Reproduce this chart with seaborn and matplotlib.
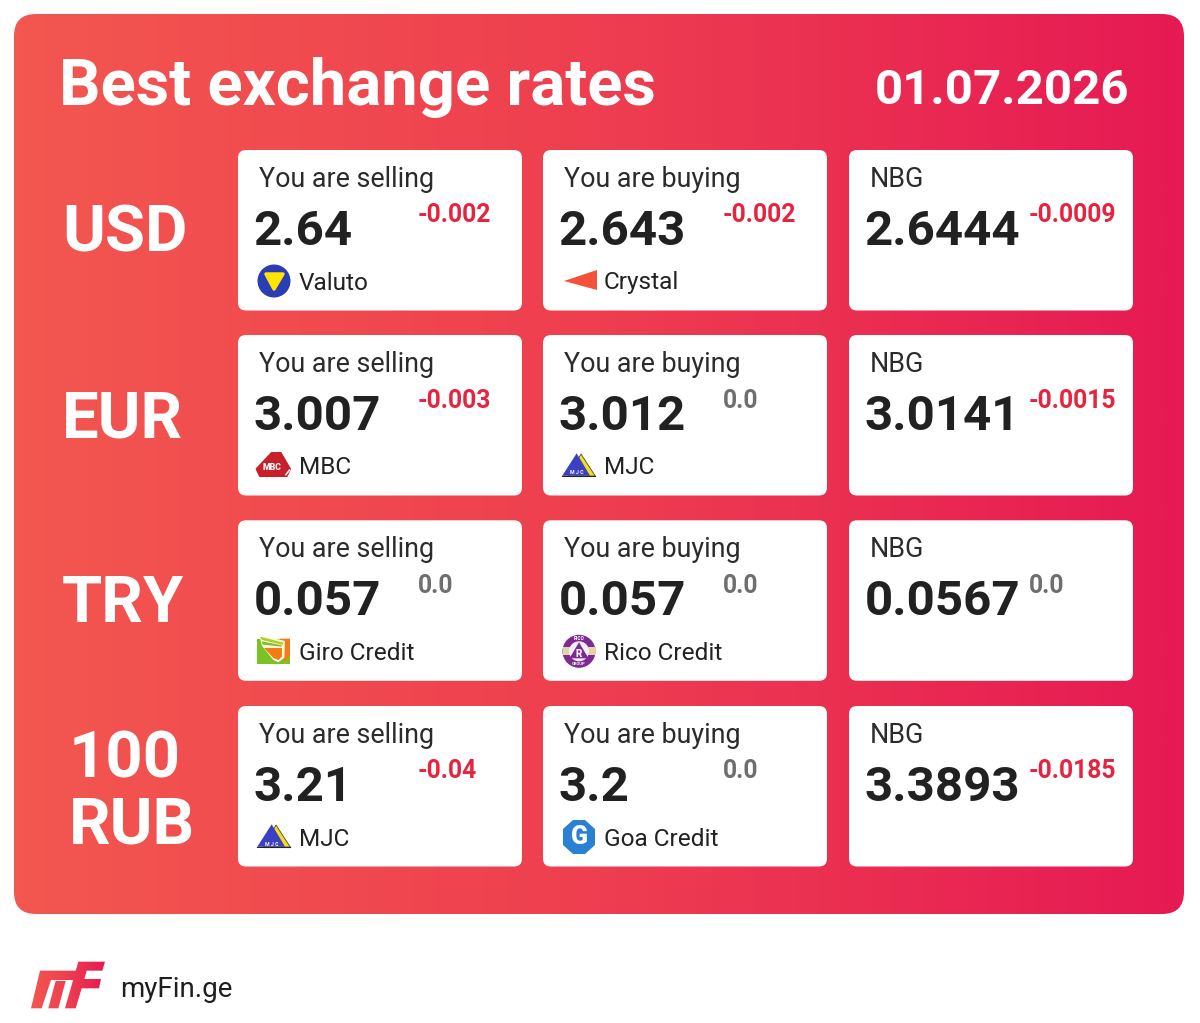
import numpy as np
import seaborn as sns
import matplotlib
matplotlib.use("Agg")
import matplotlib.pyplot as plt
from matplotlib.patches import FancyBboxPatch, Circle, Polygon, Rectangle, PathPatch
from matplotlib.path import Path
from matplotlib.colors import LinearSegmentedColormap

currencies = ["USD", "EUR", "TRY", "100\nRUB"]
sell_values = ["2.64", "3.007", "0.057", "3.21"]
sell_deltas = ["-0.002", "-0.003", "0.0", "-0.04"]
sell_banks = ["Valuto", "MBC", "Giro Credit", "MJC"]
buy_values = ["2.643", "3.012", "0.057", "3.2"]
buy_deltas = ["-0.002", "0.0", "0.0", "0.0"]
buy_banks = ["Crystal", "MJC", "Rico Credit", "Goa Credit"]
nbg_values = ["2.6444", "3.0141", "0.0567", "3.3893"]
nbg_deltas = ["-0.0009", "-0.0015", "0.0", "-0.0185"]
title_text = "Best exchange rates"
date_text = "01.07.2026"
brand_text = "myFin.ge"

sns.set_theme(style="white")
plt.rcParams["font.family"] = ["Roboto", "DejaVu Sans"]

fig = plt.figure(figsize=(12, 10.23), dpi=100, facecolor="white")
ax = fig.add_axes([0, 0, 1, 1])
ax.set_xlim(0, 1200)
ax.set_ylim(1023, 0)
ax.axis("off")

grad = LinearSegmentedColormap.from_list("g", ["#F3574F", "#EE3E50", "#E61A54"])
panel = FancyBboxPatch((14, 14), 1170, 900, boxstyle="round,pad=0,rounding_size=22",
                       fc="none", ec="none", transform=ax.transData)
ax.add_patch(panel)
im = ax.imshow(np.linspace(0, 1, 256)[None, :], extent=(14, 1184, 914, 14), cmap=grad,
               aspect="auto", zorder=1, interpolation="bilinear")
im.set_clip_path(panel)

ax.text(59, 104.5, title_text, color="white", fontsize=46.9, fontweight="bold", zorder=3)
ax.text(1129.5, 104.5, date_text, color="white", fontsize=35.5, fontweight="bold", ha="right", zorder=3)

card_xs = [238, 543, 849]
card_ys = [150, 335, 520.3, 706]
DARK = "#212121"
RED = "#E5243F"
GREY = "#6E6E6E"


def poly(pts, c, z=5, ec="none", lw=0):
    ax.add_patch(Polygon(pts, closed=True, fc=c, ec=ec, lw=lw, joinstyle="round", zorder=z))


def zoomed(x, y, pts):
    # logo outlines sketched on a 3x grid around the logo centre
    return [(x - 24 + a / 3, y - 22 + b / 3) for a, b in pts]


def logo_valuto(x, y):
    ax.add_patch(Circle((x, y), 16.5, fc="#2B3DB5", ec="none", zorder=5))
    poly([(x - 8, y - 7), (x + 9, y - 7), (x, y + 8)], "#FFE600", 6, ec="#FFE600", lw=2.5)


def logo_crystal(x, y):
    poly([(x - 15, y), (x + 18, y - 11), (x + 18, y + 9)], "#F4503A")


def logo_mbc(x, y):
    poly(zoomed(x, y + 1, [(65, 24), (92, 24), (120, 72), (110, 93), (30, 93), (20, 72)]),
         "#C8202B", 5, ec="#C8202B", lw=1.5)
    ax.text(x - 2, y + 2, "MBC", color="white", fontsize=6.3, fontweight="black", ha="center", va="center", zorder=6)
    poly(zoomed(x, y + 1, [(118, 72), (122, 75), (108, 92), (104, 90)]), "white", 6)


def logo_mjc(x, y):
    poly(zoomed(x, y, [(78, 30), (122, 98), (40, 98)]), "#F5DC1E", 5, ec="#4A4A2A", lw=0.6)
    poly(zoomed(x, y, [(65, 28), (105, 95), (22, 95)]), "#3A3FC4", 6)
    poly(zoomed(x, y, [(22, 95), (122, 95), (124, 99), (20, 99)]), "#22223A", 7)
    ax.text(x - 2, y + 7, "M J C", color="white", fontsize=3.8, fontweight="bold", ha="center", va="center", zorder=8)


def logo_giro(x, y):
    poly(zoomed(x, y, [(20, 30), (120, 30), (120, 105), (20, 105)]), "#78C424")
    poly(zoomed(x, y, [(90, 28), (120, 28), (120, 80), (102, 97)]), "#F47B16", 6)
    poly(zoomed(x, y, [(28, 17), (105, 35), (103, 85), (85, 99), (70, 92), (36, 50)]), "#FFF8D8", 7)
    poly(zoomed(x, y, [(30, 22), (100, 40), (98, 47), (36, 32)]), "#A8D030", 8)
    poly(zoomed(x, y, [(35, 36), (95, 48), (95, 52), (38, 46)]), "#78C424", 8)
    poly(zoomed(x, y, [(42, 56), (96, 56), (96, 82), (85, 92), (70, 86)]), "#F47B16", 8)


def logo_rico(x, y):
    ax.add_patch(Circle((x, y), 16.5, fc="#7D2A93", ec="none", zorder=5))
    ax.add_patch(Rectangle((x - 16.5, y - 4), 33, 8, fc="#E3D3A8", ec="none", zorder=6))
    ax.add_patch(Circle((x, y), 10, fc="#F4EEF6", ec="none", zorder=7))
    poly([(x, y - 9), (x + 9.5, y + 7), (x - 9.5, y + 7)], "#7D2A93", 8)
    ax.text(x, y + 2.5, "R", color="white", fontsize=7, fontweight="black", ha="center", va="center", zorder=9)
    ax.text(x, y - 12.5, "RICO", color="white", fontsize=3.4, fontweight="bold", ha="center", va="center", zorder=9)
    ax.text(x, y + 13, "GROUP", color="white", fontsize=3.0, fontweight="bold", ha="center", va="center", zorder=9)


def logo_goa(x, y):
    poly([(x - 6, y - 17), (x + 6, y - 17), (x + 16, y - 8), (x + 16, y + 8), (x + 6, y + 17), (x - 6, y + 17),
          (x - 16, y + 8), (x - 16, y - 8)], "#2A80D2")
    ax.text(x, y, "G", color="white", fontsize=18, fontweight="black", ha="center", va="center", zorder=6)


sell_logos = [logo_valuto, logo_mbc, logo_giro, logo_mjc]
buy_logos = [logo_crystal, logo_mjc, logo_rico, logo_goa]


def card(cx, cy, label, value, delta, bank=None, logo=None):
    ax.add_patch(FancyBboxPatch((cx, cy), 284, 160.5, boxstyle="round,pad=0,rounding_size=8",
                                fc="white", ec="none", zorder=2))
    ax.text(cx + 21, cy + 37, label, color="#2B2B2B", fontsize=19.4, zorder=3)
    ax.text(cx + 15.5, cy + 95, value, color=DARK, fontsize=35.5, fontweight="bold", zorder=3)
    ax.text(cx + 179.5, cy + 72.5, delta, color=GREY if delta == "0.0" else RED, fontsize=17.8,
            fontweight="bold", zorder=3)
    if bank:
        ax.text(cx + 61, cy + 139.5, bank, color="#222222", fontsize=17.6, zorder=3)
        logo(cx + 36, cy + 131)


for i, cy in enumerate(card_ys):
    card(card_xs[0], cy, "You are selling", sell_values[i], sell_deltas[i], sell_banks[i], sell_logos[i])
    card(card_xs[1], cy, "You are buying", buy_values[i], buy_deltas[i], buy_banks[i], buy_logos[i])
    card(card_xs[2], cy, "NBG", nbg_values[i], nbg_deltas[i])

for i, (name, cy) in enumerate(zip(currencies, card_ys)):
    if "\n" in name:
        top, bottom = name.split("\n")
        ax.text(125, cy + 72, top, color="white", fontsize=47, fontweight="bold", ha="center", zorder=3)
        ax.text(131.5, cy + 138, bottom, color="white", fontsize=47, fontweight="bold", ha="center", zorder=3)
    else:
        ax.text(62, cy + 102, name, color="white", fontsize=47, fontweight="bold", zorder=3)

# myFin logo, filled with the same gradient and clipped to its outline
mf_outline = [
    [(45, 47), (158, 47), (152, 75), (78, 75), (50, 160), (18, 160)],
    [(92, 78), (122, 78), (100, 160), (70, 160)],
    [(160, 20), (240, 20), (232, 47), (185, 47), (178, 72), (228, 72), (222, 100), (170, 100), (152, 160), (120, 160)],
]
mf_paths = [Path([(25 + a / 3, 955 + b / 3) for a, b in pts] + [(0, 0)], closed=True) for pts in mf_outline]
mf_patch = PathPatch(Path.make_compound_path(*mf_paths), fc="none", ec="none", transform=ax.transData)
ax.add_patch(mf_patch)
mf_im = ax.imshow(np.linspace(0, 1, 64)[None, :], extent=(30, 106, 1010, 960), cmap=grad, aspect="auto",
                  zorder=3, interpolation="bilinear")
mf_im.set_clip_path(mf_patch)

ax.set_xlim(0, 1200)
ax.set_ylim(1023, 0)

ax.text(120, 997, brand_text, color="#1E1E1E", fontsize=20, zorder=3)

fig.savefig("out.png", dpi=100, facecolor="white")
